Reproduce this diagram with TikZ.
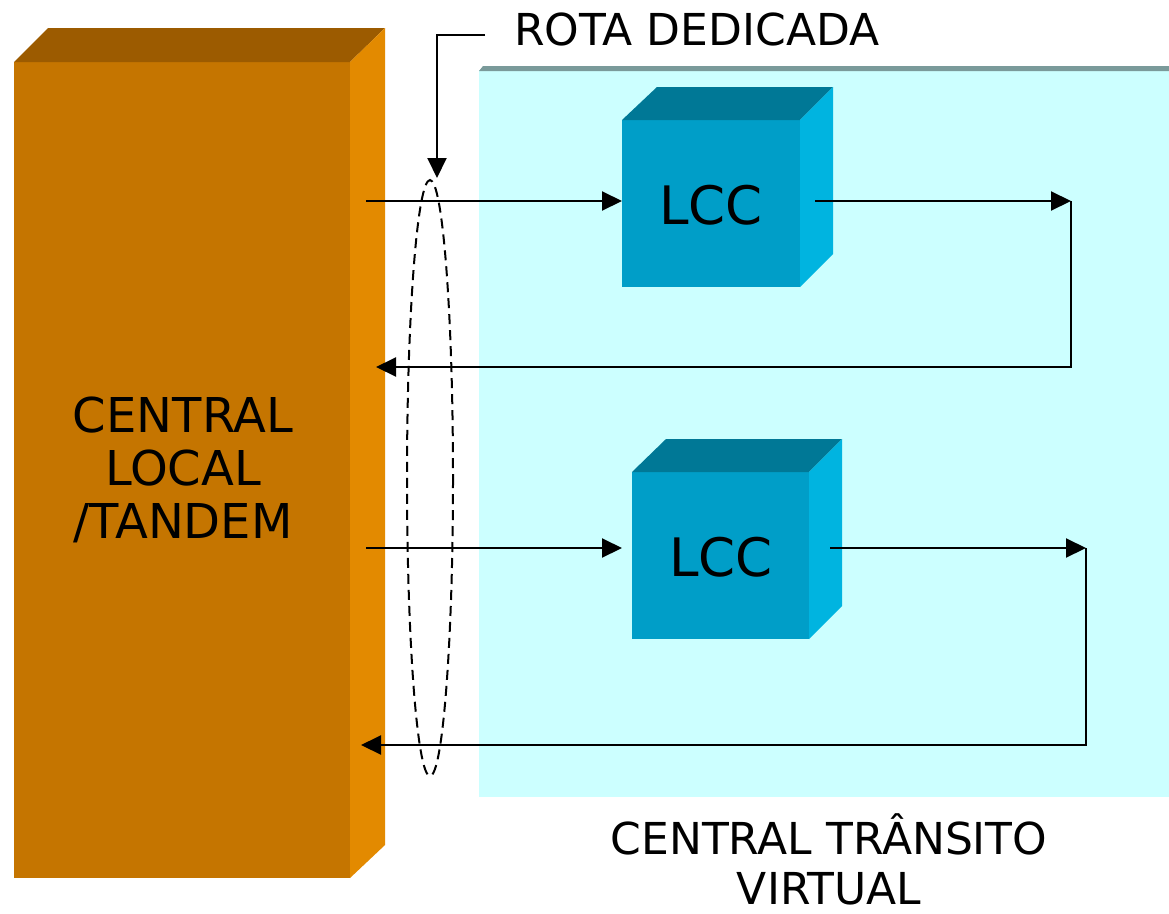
\documentclass[tikz,border=0pt]{standalone}
\usepackage{fontspec}
\setmainfont{DejaVu Sans}
\usetikzlibrary{arrows.meta}
\definecolor{orfront}{HTML}{C57500}
\definecolor{ortop}{HTML}{9C5B00}
\definecolor{orside}{HTML}{E38A00}
\definecolor{cyfront}{HTML}{009EC8}
\definecolor{cytop}{HTML}{007896}
\definecolor{cyside}{HTML}{00B4E0}
\definecolor{bgcyan}{HTML}{CCFFFF}
\definecolor{bgedge}{HTML}{7A9A9A}
\tikzset{
  conn/.style={line width=2pt,-{Triangle[length=20pt,width=19pt]}},
  lbl/.style={align=center,inner sep=0pt},
}
\begin{document}
\begin{tikzpicture}[x=1pt,y=-1pt]
\useasboundingbox (0,0) rectangle (1169,913);
% virtual transit background
\fill[bgcyan] (479,70) rectangle (1169,797);
\fill[bgedge] (479,71) -- (483,66) -- (1169,66) -- (1169,71) -- cycle;
% central local box
\fill[orfront] (14,62) rectangle (350,878);
\fill[ortop] (14,62) -- (48,28) -- (385,28) -- (350,62) -- cycle;
\fill[orside] (350,62) -- (385,28) -- (385,845) -- (350,878) -- cycle;
\node[lbl,font=\fontsize{48}{53}\selectfont] (cl) at (183,470) {CENTRAL\\LOCAL\\/TANDEM};
% LCC 1
\fill[cyfront] (622,120) rectangle (800,287);
\fill[cytop] (622,120) -- (657,87) -- (833,87) -- (800,120) -- cycle;
\fill[cyside] (800,120) -- (833,87) -- (833,254) -- (800,287) -- cycle;
\node[lbl,font=\fontsize{53}{60}\selectfont] (lcc1) at (711,205) {LCC};
% LCC 2
\fill[cyfront] (632,472) rectangle (809,639);
\fill[cytop] (632,472) -- (666,439) -- (842,439) -- (809,472) -- cycle;
\fill[cyside] (809,472) -- (842,439) -- (842,606) -- (809,639) -- cycle;
\node[lbl,font=\fontsize{53}{60}\selectfont] (lcc2) at (721,557) {LCC};
% coordinates
\coordinate (a1s) at (366,201);
\coordinate (a1e) at (622,201);
\coordinate (b1s) at (815,201);
\coordinate (b1e) at (1071,201);
\coordinate (c1) at (1071,367);
\coordinate (c1e) at (376,367);
\coordinate (a2s) at (366,548);
\coordinate (a2e) at (622,548);
\coordinate (b2s) at (830,548);
\coordinate (b2e) at (1086,548);
\coordinate (c2) at (1086,745);
\coordinate (c2e) at (361,745);
\draw[conn] (a1s) -- (a1e);
\draw[conn] (b1s) -- (b1e);
\draw[conn] (b1e) -- (c1) -- (c1e);
\draw[conn] (a2s) -- (a2e);
\draw[conn] (b2s) -- (b2e);
\draw[conn] (b2e) -- (c2) -- (c2e);
% dashed ellipse
\draw[line width=2pt,dash pattern=on 10pt off 6pt] (430,478) ellipse [x radius=23, y radius=298];
% label rota dedicada
\node[lbl,font=\fontsize{44}{50}\selectfont,anchor=base west] (rota) at (514,45) {ROTA DEDICADA};
\coordinate (r0) at (485,35);
\coordinate (r1) at (437,35);
\coordinate (r2) at (437,178);
\draw[conn] (r0) -- (r1) -- (r2);
% label central transito
\node[lbl,font=\fontsize{44}{50}\selectfont] (ct) at (829,859) {CENTRAL TRÂNSITO\\VIRTUAL};
\end{tikzpicture}
\end{document}
